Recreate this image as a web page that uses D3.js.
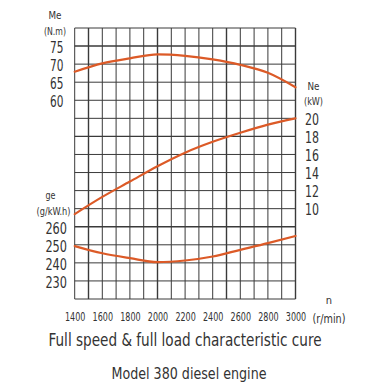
<!DOCTYPE html>
<html><head><meta charset="utf-8">
<script src="https://cdn.jsdelivr.net/npm/d3@7"></script>
<style>
html,body{margin:0;padding:0;background:#fff;}
svg{display:block;}
text{font-family:"Liberation Sans Narrow","DejaVu Sans Condensed","Open Sans",sans-serif;font-weight:300;fill:#333;}
</style></head>
<body><svg id="c" width="376" height="387"></svg>
<script>
// speeds (r/min)
const speeds = [1400,1600,1800,2000,2200,2400,2600,2800,3000];
// Torque Me (N.m)
const torque = [67.9,70.2,71.6,72.7,72.3,71.3,69.8,67.6,63.6];
// Power Ne (kW)
const power = [9.4,11.3,13.0,14.7,16.2,17.4,18.4,19.3,20.0];
// Specific fuel consumption ge (g/kW.h)
const fuel = [249.3,245.3,242.6,240.4,241.3,243.5,247.2,250.9,254.9];

const xTicks = [1400,1600,1800,2000,2200,2400,2600,2800,3000];
const meTicks = [60,65,70,75];
const neTicks = [10,12,14,16,18,20];
const geTicks = [230,240,250,260];

const FONT = '"Liberation Sans Narrow","DejaVu Sans Condensed","Open Sans",sans-serif';
const svg = d3.select("#c");
const L = 74.7, R = 295.5, T = 28, B = 299;

const x = d3.scaleLinear().domain([1400,3000]).range([L,R]);
const yMe = d3.scaleLinear().domain([80,5]).range([T,B]);
const yNe = d3.scaleLinear().domain([30,0]).range([T,B]);
const yGe = d3.scaleLinear().domain([370,220]).range([T,B]);

// grid
const g = svg.append("g");
g.selectAll("line.v").data(d3.range(1400,3001,100)).join("line")
  .attr("x1",d=>x(d)).attr("x2",d=>x(d)).attr("y1",T).attr("y2",B)
  .attr("stroke","#3a3a3a").attr("stroke-width",d=>(d%500===0)?1.4:1);
g.selectAll("line.h").data(d3.range(5,81,5)).join("line")
  .attr("y1",d=>yMe(d)).attr("y2",d=>yMe(d)).attr("x1",L).attr("x2",R)
  .attr("stroke","#3a3a3a").attr("stroke-width",d=>(d%25===0)?1.4:1);

// curves
const col = "#dc5a27";
function curve(vals, ys){
  svg.append("path").datum(speeds.map((s,i)=>[s,vals[i]]))
    .attr("fill","none").attr("stroke",col).attr("stroke-width",2.2)
    .attr("stroke-linecap","round")
    .attr("d", d3.line().x(d=>x(d[0])).y(d=>ys(d[1])).curve(d3.curveMonotoneX));
}
curve(torque,yMe); curve(power,yNe); curve(fuel,yGe);

// axes
function styleAxis(sel, size, perChar){
  sel.select(".domain").remove();
  sel.selectAll(".tick line").remove();
  sel.selectAll("text").attr("font-size",size).attr("fill","#333")
    .style("font-family",FONT).style("font-weight","300")
    .attr("textLength",function(){return this.textContent.length*perChar;})
    .attr("lengthAdjust","spacingAndGlyphs");
}
const axMe = svg.append("g").attr("transform","translate(63.5,1.5)")
  .call(d3.axisLeft(yMe).tickValues(meTicks).tickSize(0).tickPadding(0));
styleAxis(axMe,15,6.7);
const axGe = svg.append("g").attr("transform","translate(67,1.5)")
  .call(d3.axisLeft(yGe).tickValues(geTicks).tickSize(0).tickPadding(0));
styleAxis(axGe,15,7.2);
const axNe = svg.append("g").attr("transform","translate(305,1.5)")
  .call(d3.axisRight(yNe).tickValues(neTicks).tickSize(0).tickPadding(0));
styleAxis(axNe,15,7);
const axX = svg.append("g").attr("transform","translate(0,312)")
  .call(d3.axisBottom(x).tickValues(xTicks).tickSize(0).tickPadding(0).tickFormat(d3.format("d")));
styleAxis(axX,12,5.1);

// axis titles
function t(txt,xx,yy,size,anchor,len){
  const e = svg.append("text").attr("x",xx).attr("y",yy).attr("font-size",size)
    .attr("text-anchor",anchor||"middle").text(txt);
  if(len) e.attr("textLength",len).attr("lengthAdjust","spacingAndGlyphs");
  return e;
}
t("Me",55,19,11,"middle",13);
t("(N.m)",55,35,11,"middle",22);
t("ge",50.5,199,11,"middle",10);
t("(g/kW.h)",53.5,215,11,"middle",34);
t("Ne",313.5,90,11,"middle",12);
t("(kW)",313.5,105,11,"middle",19);
t("n",329,304,11);
t("(r/min)",312.5,323,12.5,"start",33);
t("Full speed & full load characteristic cure",185,346,17,"middle",273);
t("Model 380 diesel engine",189,379,15,"middle",155);
</script></body></html>
